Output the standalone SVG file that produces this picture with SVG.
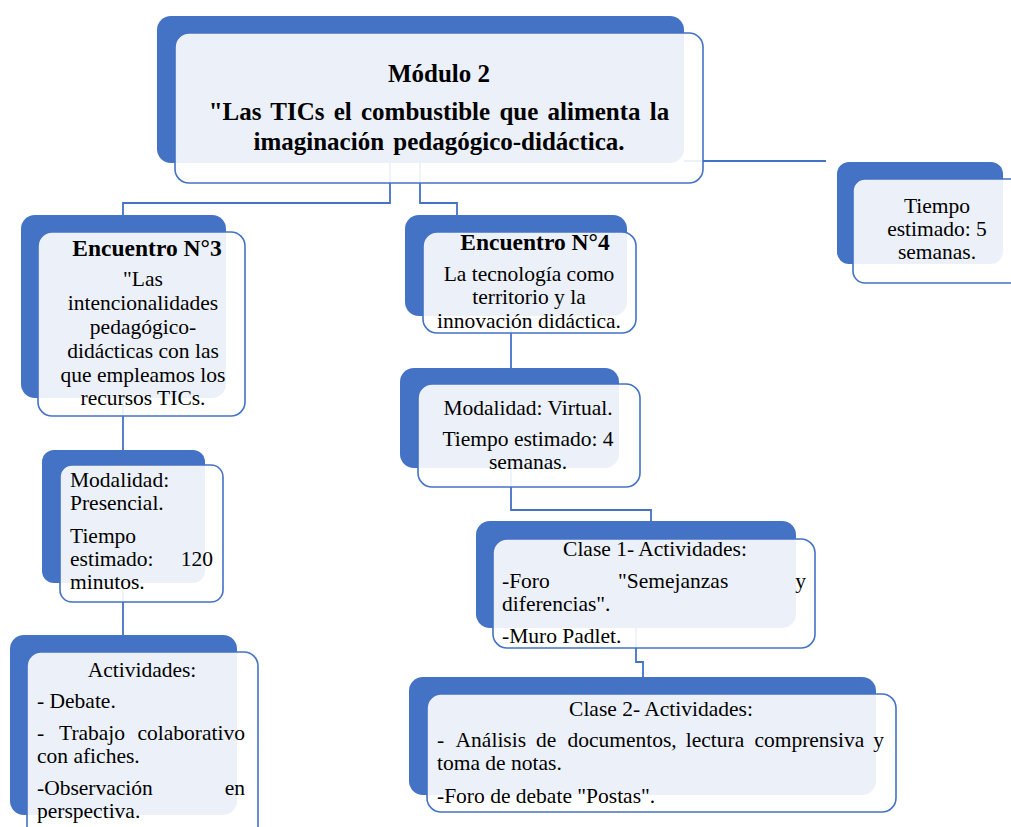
<svg xmlns="http://www.w3.org/2000/svg" width="1011" height="827" viewBox="0 0 1011 827">
  <style>
    .back { fill: #4472C4; }
    .front { fill: #ffffff; fill-opacity: 0.9; stroke: #4472C4; stroke-width: 1.6; }
    .link { fill: none; stroke: #4472C4; stroke-width: 1.8; }
    text { font-family: "Liberation Serif", "Times New Roman", serif; fill: #000; }
    .title { font-size: 25px; font-weight: bold; text-anchor: middle; }
    .head { font-size: 23.5px; font-weight: bold; text-anchor: middle; }
    .body { font-size: 21.5px; }
    .mid { text-anchor: middle; }
    .end { text-anchor: end; }
  </style>

  <!-- connectors (drawn first so the translucent card faces sit over them) -->
  <g id="connectors">
    <polyline class="link" points="390,163 390,203 123,203 123,215"/>
    <polyline class="link" points="420,163 420,203 457,203 457,215"/>
    <polyline class="link" points="684,161 826,161"/>
    <polyline class="link" points="123,398 123,450"/>
    <polyline class="link" points="123,583 123,635"/>
    <polyline class="link" points="511,316 511,368"/>
    <polyline class="link" points="511,468 511,510 651,510 651,521"/>
    <polyline class="link" points="636,628 636,662 643,662 643,677"/>
  </g>

  <!-- Módulo 2 -->
  <g id="modulo2">
    <rect class="back" x="157" y="16" width="527" height="147" rx="14"/>
    <rect class="front" x="175" y="33" width="528" height="150" rx="14"/>
    <text class="title" x="439" y="82">Módulo 2</text>
    <text class="title" x="439" y="120" word-spacing="3">"Las TICs el combustible que alimenta la</text>
    <text class="title" x="439" y="150" word-spacing="3">imaginación pedagógico-didáctica.</text>
  </g>

  <!-- Tiempo estimado total -->
  <g id="tiempo-total">
    <rect class="back" x="837" y="162" width="166" height="102" rx="12"/>
    <rect class="front" x="853" y="179" width="175" height="104" rx="12"/>
    <text class="body mid" x="937" y="213">Tiempo</text>
    <text class="body mid" x="937" y="236">estimado: 5</text>
    <text class="body mid" x="937" y="259">semanas.</text>
  </g>

  <!-- Encuentro N°3 -->
  <g id="encuentro3">
    <rect class="back" x="21" y="215" width="205" height="183" rx="14"/>
    <rect class="front" x="38" y="232" width="207" height="184" rx="14"/>
    <text class="head" x="147" y="256">Encuentro N°3</text>
    <text class="body mid" x="143" y="286">"Las</text>
    <text class="body mid" x="143" y="310">intencionalidades</text>
    <text class="body mid" x="143" y="334">pedagógico-</text>
    <text class="body mid" x="143" y="358">didácticas con las</text>
    <text class="body mid" x="143" y="382">que empleamos los</text>
    <text class="body mid" x="143" y="405">recursos TICs.</text>
  </g>

  <!-- Encuentro N°4 -->
  <g id="encuentro4">
    <rect class="back" x="405" y="215" width="222" height="101" rx="14"/>
    <rect class="front" x="423" y="232" width="213" height="101" rx="14"/>
    <text class="head" x="535" y="250">Encuentro N°4</text>
    <text class="body mid" x="529" y="281">La tecnología como</text>
    <text class="body mid" x="529" y="304">territorio y la</text>
    <text class="body mid" x="529" y="328">innovación didáctica.</text>
  </g>

  <!-- Modalidad presencial -->
  <g id="presencial">
    <rect class="back" x="42" y="450" width="163" height="133" rx="12"/>
    <rect class="front" x="60" y="465" width="163" height="137" rx="12"/>
    <text class="body" x="70" y="487">Modalidad:</text>
    <text class="body" x="70" y="510">Presencial.</text>
    <text class="body" x="70" y="543">Tiempo</text>
    <text class="body" x="70" y="566">estimado:</text>
    <text class="body end" x="213" y="566">120</text>
    <text class="body" x="70" y="589">minutos.</text>
  </g>

  <!-- Actividades encuentro 3 -->
  <g id="actividades3">
    <rect class="back" x="10" y="635" width="227" height="180" rx="14"/>
    <rect class="front" x="27" y="652" width="231" height="200" rx="14"/>
    <text class="body mid" x="142" y="677">Actividades:</text>
    <text class="body" x="37" y="708">- Debate.</text>
    <text class="body" x="37" y="740">-</text>
    <text class="body" x="59" y="740">Trabajo</text>
    <text class="body end" x="245" y="740">colaborativo</text>
    <text class="body" x="37" y="763">con afiches.</text>
    <text class="body" x="37" y="795">-Observación</text>
    <text class="body end" x="245" y="795">en</text>
    <text class="body" x="37" y="818">perspectiva.</text>
  </g>

  <!-- Modalidad virtual -->
  <g id="virtual">
    <rect class="back" x="400" y="368" width="219" height="100" rx="14"/>
    <rect class="front" x="418" y="384" width="222" height="103" rx="14"/>
    <text class="body mid" x="528" y="415">Modalidad: Virtual.</text>
    <text class="body mid" x="528" y="446">Tiempo estimado: 4</text>
    <text class="body mid" x="528" y="469">semanas.</text>
  </g>

  <!-- Clase 1 -->
  <g id="clase1">
    <rect class="back" x="476" y="521" width="320" height="107" rx="14"/>
    <rect class="front" x="493" y="539" width="322" height="109" rx="14"/>
    <text class="body mid" x="655" y="556">Clase 1- Actividades:</text>
    <text class="body" x="502" y="588">-Foro</text>
    <text class="body" x="618" y="588">"Semejanzas</text>
    <text class="body end" x="806" y="588">y</text>
    <text class="body" x="502" y="611">diferencias".</text>
    <text class="body" x="502" y="643">-Muro Padlet.</text>
  </g>

  <!-- Clase 2 -->
  <g id="clase2">
    <rect class="back" x="409" y="677" width="467" height="118" rx="14"/>
    <rect class="front" x="427" y="694" width="469" height="118" rx="14"/>
    <text class="body mid" x="661" y="716">Clase 2- Actividades:</text>
    <text class="body" y="747"><tspan x="437">-</tspan><tspan x="455.6">Análisis</tspan><tspan x="536">de</tspan><tspan x="567.4">documentos,</tspan><tspan x="685.7">lectura</tspan><tspan x="754.4">comprensiva</tspan></text>
    <text class="body end" x="884" y="747">y</text>
    <text class="body" x="437" y="770">toma de notas.</text>
    <text class="body" x="437" y="803">-Foro de debate "Postas".</text>
  </g>
</svg>
